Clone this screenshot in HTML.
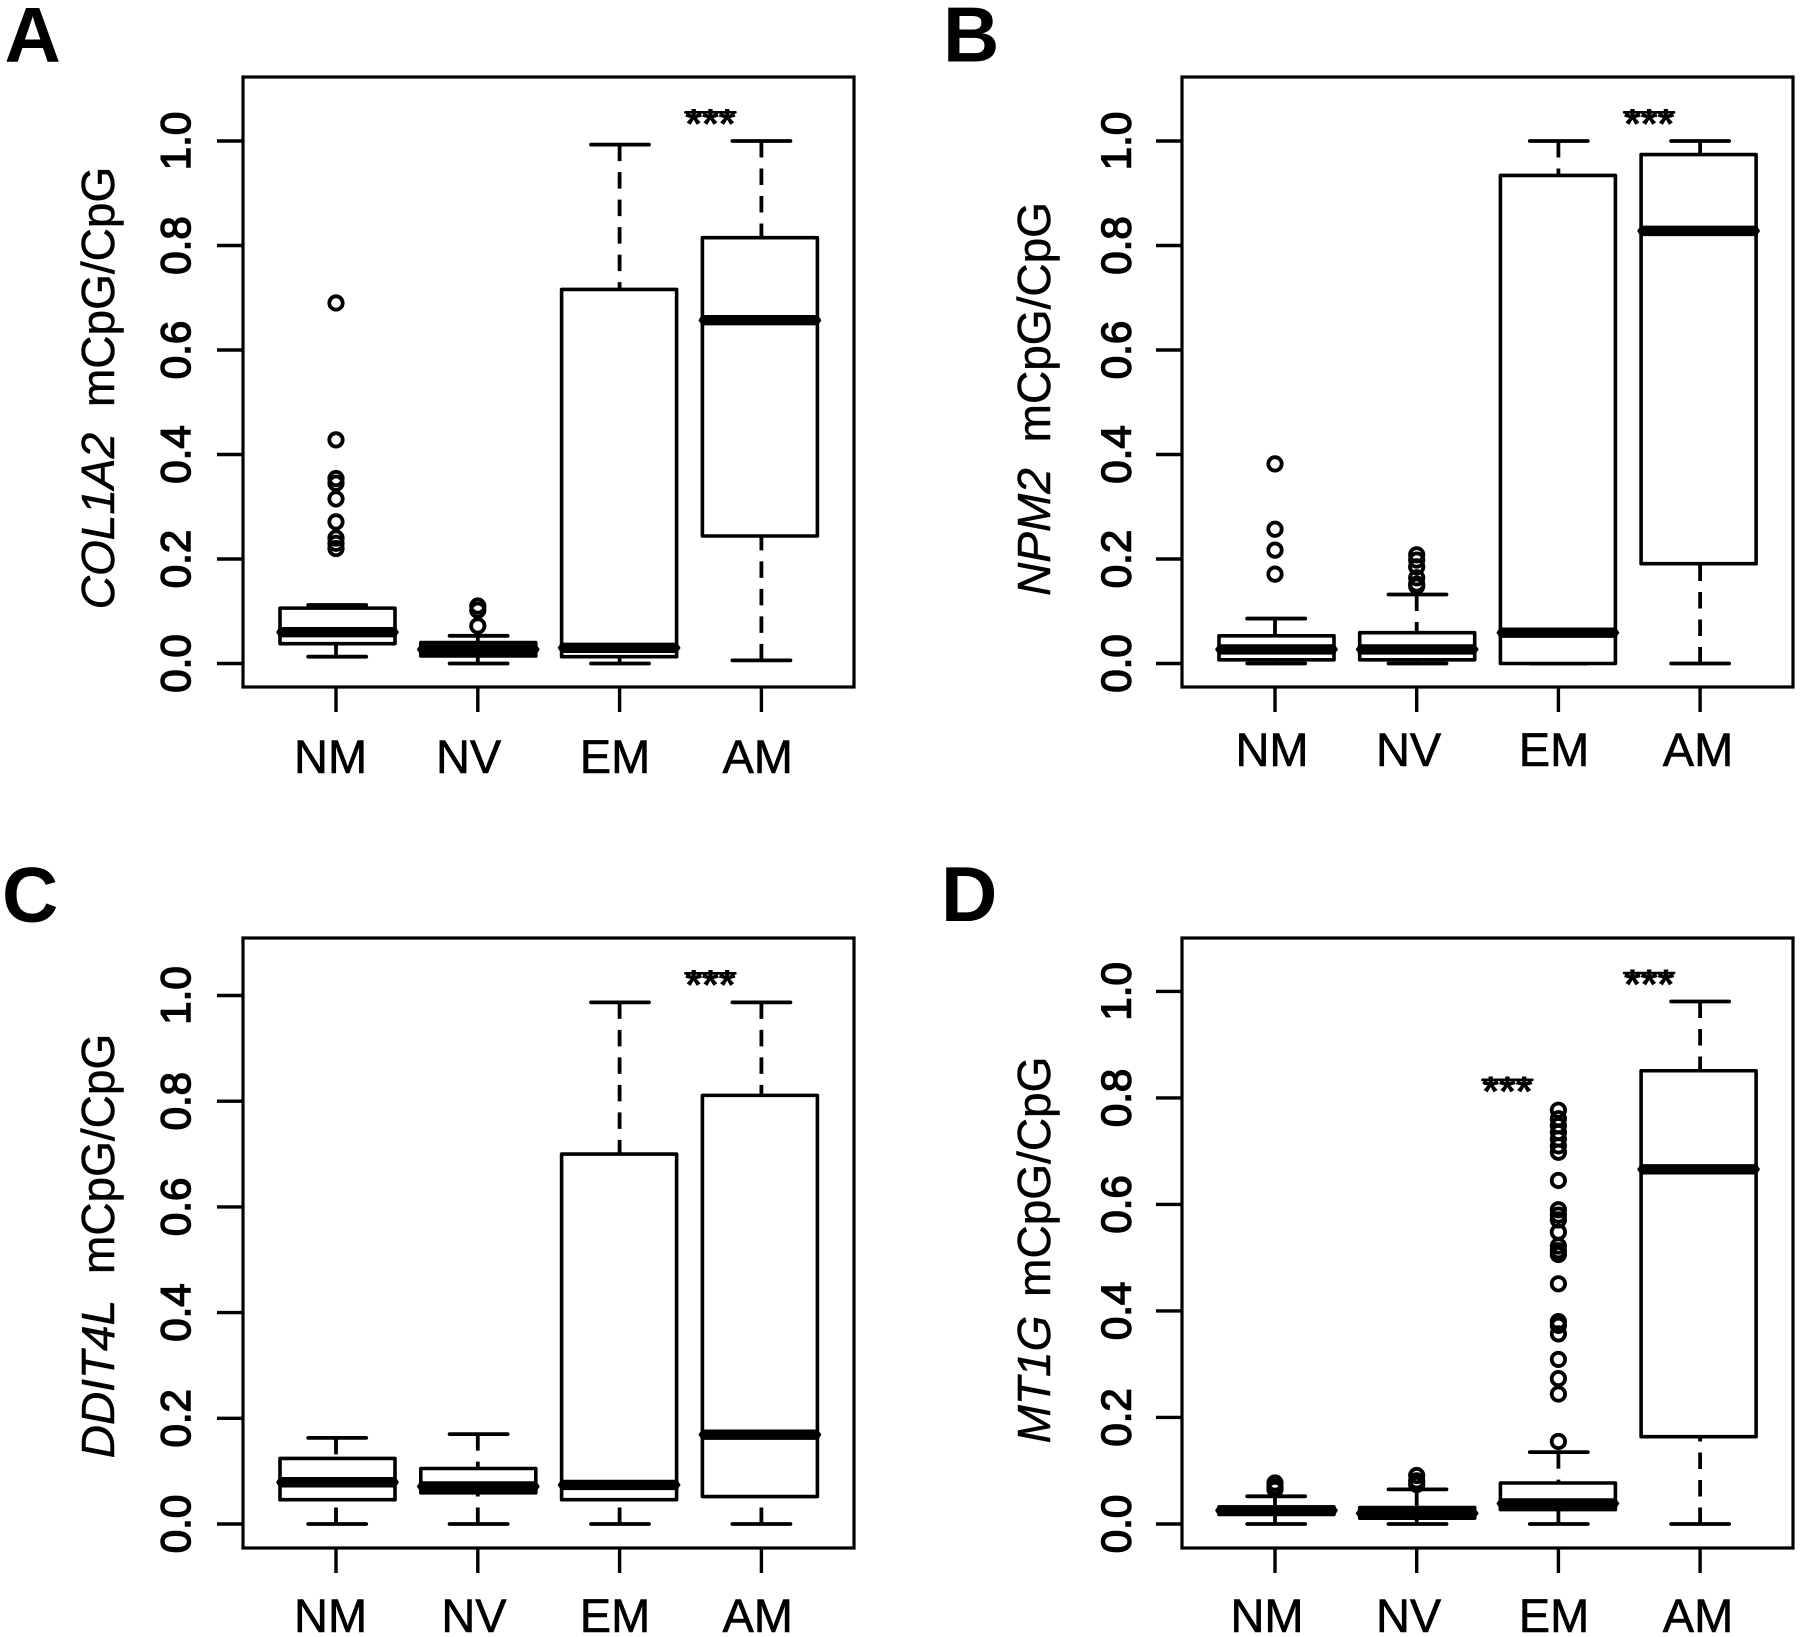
<!DOCTYPE html>
<html lang="en">
<head>
<meta charset="utf-8">
<title>Methylation boxplots</title>
<style>
html,body{margin:0;padding:0;background:#fff;}
svg{display:block;}
text{font-family:"Liberation Sans",sans-serif;fill:#000;}
</style>
</head>
<body>
<svg id="figure" xmlns="http://www.w3.org/2000/svg" width="1800" height="1637" viewBox="0 0 1800 1637"></svg>
<script>
const categories = ['NM', 'NV', 'EM', 'AM'];
const yTickValues = [0, 0.2, 0.4, 0.6, 0.8, 1.0];
const yTickLabels = ['0.0', '0.2', '0.4', '0.6', '0.8', '1.0'];

const aLow = [0.013, 0, 0, 0.006];
const aQ1 = [0.038, 0.0144, 0.013, 0.244];
const aMedian = [0.060, 0.027, 0.030, 0.657];
const aQ3 = [0.106, 0.040, 0.716, 0.815];
const aHigh = [0.112, 0.053, 0.993, 1.0];
const aOutliers = [[0.69, 0.428, 0.354, 0.345, 0.315, 0.271, 0.24, 0.23, 0.22], [0.11, 0.102, 0.072], [], []];
const aStars = [null, null, null, 1.055];

const bLow = [0, 0, 0, 0];
const bQ1 = [0.007, 0.007, 0, 0.191];
const bMedian = [0.027, 0.027, 0.059, 0.828];
const bQ3 = [0.053, 0.059, 0.934, 0.974];
const bHigh = [0.086, 0.132, 1.0, 1.0];
const bOutliers = [[0.382, 0.257, 0.217, 0.171], [0.208, 0.198, 0.185, 0.164, 0.152, 0.148], [], []];
const bStars = [null, null, null, 1.055];

const cLow = [0, 0, 0, 0];
const cQ1 = [0.046, 0.059, 0.046, 0.052];
const cMedian = [0.079, 0.071, 0.074, 0.169];
const cQ3 = [0.124, 0.105, 0.70, 0.811];
const cHigh = [0.163, 0.17, 0.987, 0.987];
const cOutliers = [[], [], [], []];
const cStars = [null, null, null, 1.042];

const dLow = [0, 0, 0, 0];
const dQ1 = [0.018, 0.011, 0.027, 0.164];
const dMedian = [0.0254, 0.02, 0.0385, 0.666];
const dQ3 = [0.032, 0.031, 0.077, 0.851];
const dHigh = [0.052, 0.065, 0.135, 0.981];
const dOutliers = [[0.077, 0.0695, 0.065], [0.091, 0.081, 0.074], [0.777, 0.761, 0.748, 0.735, 0.723, 0.710, 0.698, 0.645, 0.590, 0.580, 0.571, 0.548, 0.522, 0.513, 0.506, 0.451, 0.380, 0.373, 0.357, 0.309, 0.273, 0.244, 0.155], []];
const dStars = [null, null, 0.834, 1.0345];

const NS = 'http://www.w3.org/2000/svg';
const svg = document.getElementById('figure');

function make(parent, tag, attrs, content) {
  const el = document.createElementNS(NS, tag);
  for (const k in attrs) { el.setAttribute(k, attrs[k]); }
  if (content !== undefined) { el.textContent = content; }
  parent.appendChild(el);
  return el;
}

function drawPanel(p) {
  const g = make(svg, 'g', {});
  
  

  const yOf = function (v) { return p.y0 + (p.y1 - p.y0) * v; };
  const xOf = function (i) { return p.x0 + p.step * i; };
  const boxOf = function (i) { return p.x0 + 1.5 + (p.step - 1) * i; };
  const capOf = function (i) { return p.x0 + 1.2 + (p.step - 0.4) * i; };

  const letter = make(g, 'text', { x: p.letterX, y: p.letterY, 'font-size': 78, 'font-weight': 'bold' }, p.letter);
  
  

  const frame = make(g, 'rect', { x: p.left, y: p.top, width: p.right - p.left, height: p.bottom - p.top, fill: 'none', stroke: '#000', 'stroke-width': 3.2 });
  
  

  yTickValues.forEach(function (v, i) {
    const y = yOf(v);
    const tick = make(g, 'line', { x1: p.left - 26, x2: p.left, y1: y, y2: y, stroke: '#000', 'stroke-width': 3.4 });
    
    
    const lab = make(g, 'text', { transform: 'translate(' + p.yLabelX + ',' + y + ') rotate(-90)', 'text-anchor': 'middle', 'font-size': 42, stroke: '#000', 'stroke-width': 1.5 }, yTickLabels[i]);
    
    
  });

  const title = make(g, 'text', { transform: 'translate(' + p.titleX + ',' + p.titleY + ') rotate(-90)', 'text-anchor': 'middle', 'font-size': 46, stroke: '#000', 'stroke-width': 0.5 });
  
  
  make(title, 'tspan', { 'font-style': 'italic' }, p.gene);
  make(title, 'tspan', { dx: p.titleGap }, '\u00A0mCpG/CpG');

  categories.forEach(function (cat, i) {
    const x = xOf(i);
    const bx = boxOf(i);
    const cx = capOf(i);

    const tick = make(g, 'line', { x1: x, x2: x, y1: p.bottom, y2: p.bottom + 25, stroke: '#000', 'stroke-width': 3.4 });
    
    

    const lab = make(g, 'text', { x: p.catX[i], y: p.catY, 'text-anchor': 'middle', 'font-size': 47, stroke: '#000', 'stroke-width': 0.6 }, cat);
    
    

    const high = make(g, 'line', { x1: x, x2: x, y1: yOf(p.high[i]), y2: yOf(p.q3[i]), stroke: '#000', 'stroke-width': 3.8, 'stroke-dasharray': '16.5 11' });
    
    

    const low = make(g, 'line', { x1: x, x2: x, y1: yOf(p.low[i]), y2: yOf(p.q1[i]), stroke: '#000', 'stroke-width': 3.8, 'stroke-dasharray': '16.5 11' });
    
    

    const capHigh = make(g, 'line', { x1: cx - 29, x2: cx + 29, y1: yOf(p.high[i]), y2: yOf(p.high[i]), stroke: '#000', 'stroke-width': 3.8, 'stroke-linecap': 'round' });
    
    

    const capLow = make(g, 'line', { x1: cx - 29, x2: cx + 29, y1: yOf(p.low[i]), y2: yOf(p.low[i]), stroke: '#000', 'stroke-width': 3.8, 'stroke-linecap': 'round' });
    
    

    const box = make(g, 'rect', { x: bx - 57.5, width: 115, y: yOf(p.q3[i]), height: yOf(p.q1[i]) - yOf(p.q3[i]), fill: '#fff', stroke: '#000', 'stroke-width': 3.6, 'stroke-linejoin': 'round' });
    
    

    const my = yOf(p.median[i]);
    const pts = [[bx - 61.5, my], [bx - 58, my - 5.2], [bx + 58, my - 5.2], [bx + 61.5, my], [bx + 58, my + 5.2], [bx - 58, my + 5.2]];
    const med = make(g, 'polygon', { points: pts.map(function (q) { return q.join(','); }).join(' '), fill: '#000' });
    
    

    p.outliers[i].forEach(function (v) {
      const c = make(g, 'circle', { cx: x, cy: yOf(v), r: 6.7, fill: 'none', stroke: '#000', 'stroke-width': 3.8 });
      
      
    });

    if (p.stars[i] !== null) {
      const sy = yOf(p.stars[i]);
      const sx = x - 51;
      const star = make(g, 'text', { x: sx, y: sy + 26, 'text-anchor': 'middle', 'font-size': 43, 'font-weight': 'bold' }, '***');
      
      
      const bar = make(g, 'line', { x1: sx - 25, x2: sx + 25, y1: sy, y2: sy, stroke: '#000', 'stroke-width': 2.6, 'stroke-linecap': 'round' });
      
      
    }
  });
}

drawPanel({ letter: 'A', letterX: 4.5, letterY: 61.5, left: 243, right: 854, top: 77, bottom: 687, y0: 663.5, y1: 141, x0: 336, step: 141.8,
  yLabelX: 190, titleX: 114, titleY: 388, gene: 'COL1A2', titleGap: 13, catX: [330.6, 468.6, 615, 757.7], catY: 773,
  low: aLow, q1: aQ1, median: aMedian, q3: aQ3, high: aHigh, outliers: aOutliers, stars: aStars });

drawPanel({ letter: 'B', letterX: 943, letterY: 61.5, left: 1182, right: 1793, top: 77, bottom: 687, y0: 663.5, y1: 141, x0: 1275, step: 141.7,
  yLabelX: 1130.5, titleX: 1050, titleY: 399, gene: 'NPM2', titleGap: 13, catX: [1272, 1408.6, 1554, 1698], catY: 766,
  low: bLow, q1: bQ1, median: bMedian, q3: bQ3, high: bHigh, outliers: bOutliers, stars: bStars });

drawPanel({ letter: 'C', letterX: 2, letterY: 921.5, left: 243, right: 854, top: 938, bottom: 1548, y0: 1524, y1: 995.5, x0: 336, step: 141.8,
  yLabelX: 190, titleX: 114, titleY: 1246, gene: 'DDIT4L', titleGap: 13, catX: [330.6, 474, 615, 757.7], catY: 1632,
  low: cLow, q1: cQ1, median: cMedian, q3: cQ3, high: cHigh, outliers: cOutliers, stars: cStars });

drawPanel({ letter: 'D', letterX: 941, letterY: 921, left: 1182, right: 1793, top: 938, bottom: 1548, y0: 1524, y1: 991.4, x0: 1275, step: 141.7,
  yLabelX: 1130.5, titleX: 1050, titleY: 1250, gene: 'MT1G', titleGap: 6, catX: [1267, 1408.6, 1554, 1698], catY: 1632,
  low: dLow, q1: dQ1, median: dMedian, q3: dQ3, high: dHigh, outliers: dOutliers, stars: dStars });
</script>
</body>
</html>
